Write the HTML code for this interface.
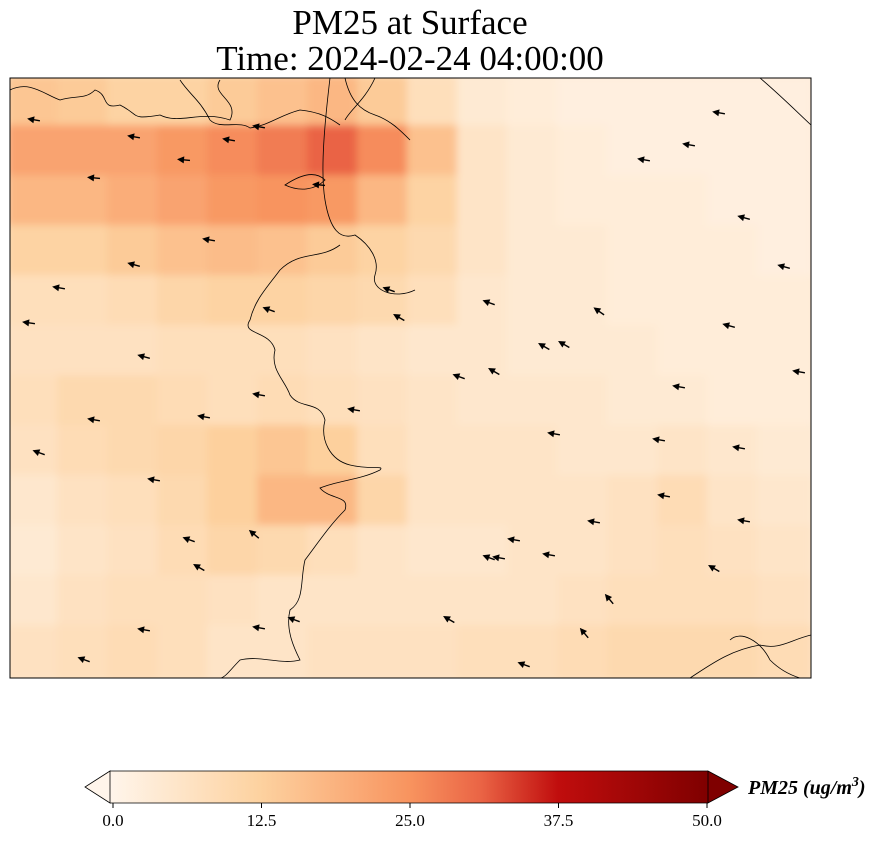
<!DOCTYPE html>
<html><head><meta charset="utf-8"><style>
body{margin:0;background:#fff;width:884px;height:839px;overflow:hidden;font-family:"Liberation Serif",serif}
</style></head><body>
<svg width="884" height="839" xmlns="http://www.w3.org/2000/svg">
<defs>
<clipPath id="pc"><rect x="10" y="78" width="801" height="600"/></clipPath>
<linearGradient id="cg" x1="0" x2="1">
<stop offset="0" stop-color="#fff5eb"/><stop offset="0.25" stop-color="#fdd2a0"/>
<stop offset="0.5" stop-color="#f8945f"/><stop offset="0.62" stop-color="#ea6445"/>
<stop offset="0.75" stop-color="#c00d0d"/><stop offset="1" stop-color="#7f0000"/>
</linearGradient>
<filter id="bl"><feGaussianBlur stdDeviation="4"/></filter>
</defs>
<text x="410" y="34" text-anchor="middle" font-size="35">PM25 at Surface</text>
<text x="410" y="70" text-anchor="middle" font-size="35">Time: 2024-02-24 04:00:00</text>
<g clip-path="url(#pc)">
<rect x="10" y="78" width="801" height="600" fill="#fdebd6"/>
<g id="heat" filter="url(#bl)"></g>
<g fill="none" stroke="#000" stroke-width="0.8">
<path d="M10,90 C30,80 45,95 60,100 C75,95 85,100 95,90 C110,95 100,110 120,105 C140,115 130,120 160,115 C180,125 200,110 230,120 C240,100 210,95 220,80"/>
<path d="M180,80 C190,95 200,100 210,120 C220,130 240,120 250,128 C270,125 280,115 300,110 C320,112 330,118 340,125"/>
<path d="M345,78 C350,100 360,110 375,115 C390,120 400,130 410,140"/>
<path d="M330,78 C325,120 320,170 325,200 C330,230 340,240 355,235 C370,245 380,260 375,275 C370,290 395,300 415,290"/>
<path d="M285,185 C300,175 315,170 325,180 C315,190 300,192 285,185Z"/>
<path d="M375,78 C365,100 350,110 345,120"/>
<path d="M340,245 C320,260 300,250 280,270 C265,290 255,300 250,320 C240,335 270,330 275,350 C270,370 285,380 290,395 C300,410 320,400 325,420 C320,440 330,460 350,465 C370,470 385,465 380,470 C360,480 340,480 320,488 C330,500 350,495 345,510 C330,525 320,540 305,560 C300,580 305,600 290,610 C285,630 295,650 300,660 C280,665 260,655 240,660 C230,670 225,678 220,678"/>
<path d="M690,678 C710,665 730,650 760,645 C780,650 790,640 811,635"/>
<path d="M730,640 C740,630 760,640 770,660 C780,670 790,675 800,678"/>
<path d="M760,78 C780,95 795,110 811,125"/>
</g>
<g id="arrows"></g>
</g>
<rect x="10" y="78" width="801" height="600" fill="none" stroke="#000" stroke-width="1"/>
<g>
<rect x="110" y="771" width="598" height="32" fill="url(#cg)"/>
<polygon points="110,771 85,787 110,803" fill="#fff5eb" stroke="#000" stroke-width="0.8"/>
<polygon points="708,771 738,787 708,803" fill="#7f0000" stroke="#000" stroke-width="0.8"/>
<path d="M110,771 H708 M110,803 H708" stroke="#000" stroke-width="0.8"/>
<g id="cbt" font-size="17"></g>
<text x="748" y="794" font-size="20" font-weight="bold" font-style="italic">PM25 (ug/m<tspan dy="-8" font-size="14">3</tspan><tspan dy="8">)</tspan></text>
</g>
</svg>
<script>
const NS="http://www.w3.org/2000/svg";
const rows=[
[15,14,12,12,14,16,18,14,8,4,3,2,2,2,2,2],
[22,22,22,24,26,28,31,26,16,6,4,3,2,2,2,2],
[18,18,20,22,24,25,24,18,12,6,4,3,3,3,2,2],
[12,12,14,16,17,16,14,12,10,6,4,4,3,3,3,2],
[8,8,9,11,12,12,11,10,8,5,4,4,3,3,3,3],
[7,7,7,8,8,8,7,6,5,5,4,4,4,3,3,3],
[8,10,10,9,8,9,8,7,6,5,5,5,4,4,3,3],
[7,9,10,11,13,15,13,8,6,6,6,5,5,6,5,4],
[5,7,8,10,13,18,18,11,6,6,6,6,7,9,6,5],
[4,6,7,9,11,10,8,6,5,5,6,6,7,8,7,6],
[5,7,8,8,7,6,6,6,6,6,6,7,8,8,8,7],
[7,8,9,8,6,6,7,7,7,8,8,9,10,10,10,9]];
const cbTicks=[0,12.5,25,37.5,50];
const arrowX=[35,95,135,185,230,260,320,60,135,210,30,145,95,205,40,155,190,255,270,390,400,490,545,565,600,645,690,720,745,785,730,800,680,740,660,555,460,495,515,595,665,745,715,610,585,525,450,260,295,200,145,85,355,260,500,550,490];
const arrowY=[120,178,137,160,140,127,185,288,265,240,323,357,420,417,453,480,540,535,310,290,318,303,347,345,312,160,145,113,218,267,326,372,387,448,440,434,377,372,540,522,496,521,569,600,634,665,620,628,620,568,630,660,410,395,558,555,558];
const arrowDir=[190,185,190,185,190,190,185,190,195,190,188,195,190,190,200,190,200,220,200,200,210,200,210,210,215,190,190,190,195,195,195,190,190,190,190,190,200,210,190,190,190,190,210,230,230,200,210,190,200,210,190,200,190,190,190,190,200];
function col(v){const st=[[0,[255,245,235]],[12.5,[253,210,160]],[25,[248,148,95]],[31,[234,100,69]],[37.5,[192,13,13]],[50,[127,0,0]]];
v=Math.max(0,Math.min(50,v));for(let i=1;i<st.length;i++){if(v<=st[i][0]){const a=st[i-1],b=st[i],t=(v-a[0])/(b[0]-a[0]);return "rgb("+a[1].map((c,k)=>Math.round(c+(b[1][k]-c)*t)).join(",")+")";}}return "rgb(127,0,0)";}
const xS=j=>10+j*50+25, yS=i=>78+i*50+25;
const heat=document.getElementById("heat");
rows.forEach((r,i)=>r.forEach((v,j)=>{const e=document.createElementNS(NS,"rect");
e.setAttribute("x",xS(j)-28);e.setAttribute("y",yS(i)-28);e.setAttribute("width",56);e.setAttribute("height",56);
e.setAttribute("fill",col(v));


heat.appendChild(e);}));
const ag=document.getElementById("arrows");
arrowX.forEach((x,k)=>{const g=document.createElementNS(NS,"g");
g.setAttribute("transform","translate("+x+","+arrowY[k]+") rotate("+arrowDir[k]+")");
g.innerHTML='<line x1="-5" y1="0" x2="3" y2="0" stroke="#000" stroke-width="1.4"/><polygon points="8,0 1,-3.5 1,3.5" fill="#000"/>';


ag.appendChild(g);});
const cb=document.getElementById("cbt");
cbTicks.forEach(t=>{const x=113+(t/50)*594;
const l=document.createElementNS(NS,"line");l.setAttribute("x1",x);l.setAttribute("x2",x);l.setAttribute("y1",803);l.setAttribute("y2",808);l.setAttribute("stroke","#000");


cb.appendChild(l);
const tx=document.createElementNS(NS,"text");tx.setAttribute("x",x);tx.setAttribute("y",826);tx.setAttribute("text-anchor","middle");tx.textContent=t.toFixed(1);


cb.appendChild(tx);});
</script>
</body></html>
